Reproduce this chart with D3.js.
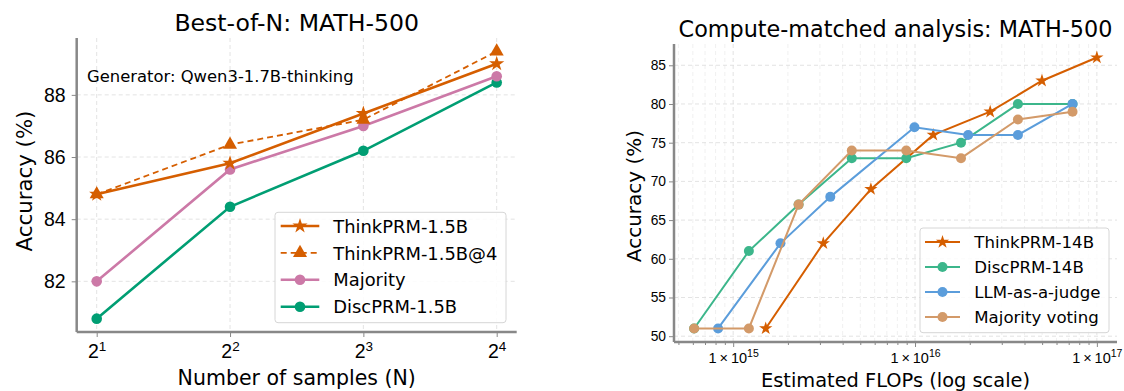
<!DOCTYPE html>
<html>
<head>
<meta charset="utf-8">
<script src="https://cdn.jsdelivr.net/npm/d3@7"></script>
<style>
  body { margin: 0; background: #fff; }
  svg { font-family: "DejaVu Sans", sans-serif; }
</style>
</head>
<body>
<div id="chart"></div>
<script>
// ---- left panel data (Best-of-N) ----
var samples = [2, 4, 8, 16];
var thinkPRM15 = [84.8, 85.8, 87.4, 89.0];
var thinkPRM15at4 = [84.8, 86.4, 87.2, 89.4];
var majority = [82.0, 85.6, 87.0, 88.6];
var discPRM15 = [80.8, 84.4, 86.2, 88.4];
var leftYTicks = [82, 84, 86, 88];

// ---- right panel data (compute matched) ----
var think14Flops = [1.51e15, 3.13e15, 5.72e15, 1.26e16, 2.59e16, 4.99e16, 1.0e17];
var think14Acc = [51, 62, 69, 76, 79, 83, 86];
var disc14Flops = [6.1e14, 1.22e15, 2.29e15, 4.49e15, 8.95e15, 1.79e16, 3.68e16, 7.35e16];
var disc14Acc = [51, 61, 67, 73, 73, 75, 80, 80];
var judgeFlops = [8.26e14, 1.82e15, 3.42e15, 9.93e15, 1.96e16, 3.68e16, 7.35e16];
var judgeAcc = [51, 62, 68, 77, 76, 76, 80];
var majVoteFlops = [6.1e14, 1.22e15, 2.29e15, 4.49e15, 8.95e15, 1.79e16, 3.68e16, 7.35e16];
var majVoteAcc = [51, 51, 67, 74, 74, 73, 78, 79];
var rightYTicks = [50, 55, 60, 65, 70, 75, 80, 85];
var rightXTicks = [1e15, 1e16, 1e17];

var orange = "#d55e00";

var svg = d3.select("#chart").append("svg")
    .attr("width", 1124)
    .attr("height", 391);

// pad a domain by 5% like matplotlib
function pad(lo, hi) {
  var d = (hi - lo) * 0.05;
  return [lo - d, hi + d];
}

function star(r) { return d3.symbol().type(d3.symbolStar).size(r * r / 0.8908)(); }

// ================= LEFT PANEL =================
var L = {left: 76.7, top: 38, width: 440, height: 294};
var g1 = svg.append("g").attr("transform", "translate(" + L.left + "," + L.top + ")");

var lx = d3.scaleLog().base(2)
    .domain(pad(1, 4).map(function(e) { return Math.pow(2, e); }))
    .range([0, L.width]);
var allLeft = thinkPRM15.concat(thinkPRM15at4, majority, discPRM15);
var ly = d3.scaleLinear()
    .domain(pad(d3.min(allLeft), d3.max(allLeft)))
    .range([L.height, 0]);

// grid
g1.append("g").selectAll("line").data(samples).enter().append("line")
    .attr("x1", function(d) { return lx(d); }).attr("x2", function(d) { return lx(d); })
    .attr("y1", 0).attr("y2", L.height)
    .attr("stroke", "#e0e0e0").attr("stroke-dasharray", "4,3").attr("stroke-width", 0.9);
g1.append("g").selectAll("line").data(leftYTicks).enter().append("line")
    .attr("y1", function(d) { return ly(d); }).attr("y2", function(d) { return ly(d); })
    .attr("x1", 0).attr("x2", L.width)
    .attr("stroke", "#e0e0e0").attr("stroke-dasharray", "4,3").attr("stroke-width", 0.9);

// y axis
var yAxL = g1.append("g")
    .call(d3.axisLeft(ly).tickValues(leftYTicks).tickSize(5).tickPadding(6).tickFormat(d3.format("d")));
yAxL.select(".domain").remove();
yAxL.selectAll("line").attr("stroke", "#888");
yAxL.selectAll("text").style("font-size", "19.5px").attr("fill", "#000");

// x axis
var xAxL = g1.append("g").attr("transform", "translate(0," + L.height + ")")
    .call(d3.axisBottom(lx).tickValues(samples).tickSize(5).tickFormat(""));
xAxL.select(".domain").remove();
xAxL.selectAll("line").attr("stroke", "#888");
xAxL.selectAll(".tick").append("text")
    .attr("y", 26).attr("text-anchor", "middle").attr("fill", "#000")
    .style("font-size", "19.5px")
    .each(function(d) {
      var t = d3.select(this);
      t.append("tspan").text("2");
      t.append("tspan").attr("dy", -7.5).style("font-size", "13.5px").text(Math.log2(d));
    });

// spines
g1.append("line").attr("x1", 0).attr("x2", 0).attr("y1", 0).attr("y2", L.height)
    .attr("stroke", "#888").attr("stroke-width", 2.5);
g1.append("line").attr("x1", 0).attr("x2", L.width).attr("y1", L.height).attr("y2", L.height)
    .attr("stroke", "#888").attr("stroke-width", 2.5);

var leftSeries = [
  {name: "ThinkPRM-1.5B", vals: thinkPRM15, color: orange, dash: null, marker: "star"},
  {name: "ThinkPRM-1.5B@4", vals: thinkPRM15at4, color: orange, dash: "6,4", marker: "tri"},
  {name: "Majority", vals: majority, color: "#cc79a7", dash: null, marker: "circle"},
  {name: "DiscPRM-1.5B", vals: discPRM15, color: "#009e73", dash: null, marker: "circle"}
];

function drawMarker(sel, kind, color) {
  if (kind === "circle") {
    sel.append("circle").attr("r", 5.3).attr("fill", color);
  } else if (kind === "star") {
    sel.append("path").attr("d", star(8)).attr("fill", color);
  } else {
    sel.append("path").attr("d", d3.symbol().type(d3.symbolTriangle).size(85)())
      .attr("fill", color);
  }
}

var lineL = d3.line()
    .x(function(d, i) { return lx(samples[i]); })
    .y(function(d) { return ly(d); });

[3, 2, 1, 0].forEach(function(k) {
  var s = leftSeries[k];
  g1.append("path").datum(s.vals)
    .attr("fill", "none").attr("stroke", s.color)
    .attr("stroke-width", s.dash ? 1.8 : 2.6)
    .attr("stroke-dasharray", s.dash)
    .attr("d", lineL);
  s.vals.forEach(function(v, i) {
    var m = g1.append("g").attr("transform", "translate(" + lx(samples[i]) + "," + ly(v) + ")");
    drawMarker(m, s.marker, s.color);
  });
});

// annotation
g1.append("text").attr("x", 10.3).attr("y", 43.7).style("font-size", "16.4px")
    .attr("fill", "#000").text("Generator: Qwen3-1.7B-thinking");

// legend
var lg1 = g1.append("g").attr("transform", "translate(198.3,174.3)");
lg1.append("rect").attr("width", 231).attr("height", 110.4).attr("rx", 3)
    .attr("fill", "#fff").attr("fill-opacity", 0.85).attr("stroke", "#d6d6d6");
leftSeries.forEach(function(s, i) {
  var row = lg1.append("g").attr("transform", "translate(0," + (13.7 + i * 26.9) + ")");
  row.append("line").attr("x1", 5.7).attr("x2", 44.3)
    .attr("stroke", s.color).attr("stroke-width", s.dash ? 1.8 : 2.6)
    .attr("stroke-dasharray", s.dash);
  var m = row.append("g").attr("transform", "translate(25,0)");
  drawMarker(m, s.marker, s.color);
  row.append("text").attr("x", 58.3).attr("y", 6.6).style("font-size", "17.9px")
    .attr("fill", "#000").text(s.name);
});

// titles / labels
svg.append("text").attr("x", L.left + L.width / 2).attr("y", 30.7)
    .attr("text-anchor", "middle").style("font-size", "23.6px").text("Best-of-N: MATH-500");
svg.append("text").attr("x", L.left + L.width / 2).attr("y", 385)
    .attr("text-anchor", "middle").style("font-size", "20.5px").text("Number of samples (N)");
svg.append("text")
    .attr("transform", "translate(32,181) rotate(-90)")
    .attr("text-anchor", "middle").style("font-size", "21.3px").text("Accuracy (%)");

// ================= RIGHT PANEL =================
var R = {left: 674, top: 44, width: 443, height: 298};
var g2 = svg.append("g").attr("transform", "translate(" + R.left + "," + R.top + ")");

var allFlops = think14Flops.concat(disc14Flops, judgeFlops, majVoteFlops);
var allAcc = think14Acc.concat(disc14Acc, judgeAcc, majVoteAcc);
var lf = pad(Math.log10(d3.min(allFlops)), Math.log10(d3.max(allFlops)));
var rx = d3.scaleLog()
    .domain(lf.map(function(e) { return Math.pow(10, e); }))
    .range([0, R.width]);
var ry = d3.scaleLinear()
    .domain(pad(d3.min(allAcc), d3.max(allAcc)))
    .range([R.height, 0]);

var minorTicks = rx.ticks().filter(function(t) {
  return rightXTicks.indexOf(t) < 0;
});

// grid
g2.append("g").selectAll("line").data(minorTicks).enter().append("line")
    .attr("x1", function(d) { return rx(d); }).attr("x2", function(d) { return rx(d); })
    .attr("y1", 0).attr("y2", R.height)
    .attr("stroke", "#ececec").attr("stroke-dasharray", "4,3").attr("stroke-width", 0.8);
g2.append("g").selectAll("line").data(rightXTicks).enter().append("line")
    .attr("x1", function(d) { return rx(d); }).attr("x2", function(d) { return rx(d); })
    .attr("y1", 0).attr("y2", R.height)
    .attr("stroke", "#e0e0e0").attr("stroke-dasharray", "4,3").attr("stroke-width", 0.9);
g2.append("g").selectAll("line").data(rightYTicks).enter().append("line")
    .attr("y1", function(d) { return ry(d); }).attr("y2", function(d) { return ry(d); })
    .attr("x1", 0).attr("x2", R.width)
    .attr("stroke", "#e0e0e0").attr("stroke-dasharray", "4,3").attr("stroke-width", 0.9);

var yAxR = g2.append("g")
    .call(d3.axisLeft(ry).tickValues(rightYTicks).tickSize(5).tickPadding(3).tickFormat(d3.format("d")));
yAxR.select(".domain").remove();
yAxR.selectAll("line").attr("stroke", "#888");
yAxR.selectAll("text").style("font-size", "13.8px").attr("fill", "#000");

var xMinR = g2.append("g").attr("transform", "translate(0," + R.height + ")")
    .call(d3.axisBottom(rx).tickValues(minorTicks).tickSize(3).tickFormat(""));
xMinR.select(".domain").remove();
xMinR.selectAll("line").attr("stroke", "#888");

var xAxR = g2.append("g").attr("transform", "translate(0," + R.height + ")")
    .call(d3.axisBottom(rx).tickValues(rightXTicks).tickSize(5).tickFormat(""));
xAxR.select(".domain").remove();
xAxR.selectAll("line").attr("stroke", "#888");
xAxR.selectAll(".tick").append("text")
    .attr("y", 21).attr("text-anchor", "middle").attr("fill", "#000")
    .style("font-size", "14.5px")
    .each(function(d) {
      var t = d3.select(this);
      t.append("tspan").text("1\u2009\u00d7\u200910");
      t.append("tspan").attr("dy", -6).style("font-size", "10.5px").text(Math.round(Math.log10(d)));
    });

g2.append("line").attr("x1", 0).attr("x2", 0).attr("y1", 0).attr("y2", R.height)
    .attr("stroke", "#888").attr("stroke-width", 2.5);
g2.append("line").attr("x1", 0).attr("x2", R.width).attr("y1", R.height).attr("y2", R.height)
    .attr("stroke", "#888").attr("stroke-width", 2.5);

var rightSeries = [
  {name: "ThinkPRM-14B", x: think14Flops, y: think14Acc, color: orange, marker: "star"},
  {name: "DiscPRM-14B", x: disc14Flops, y: disc14Acc, color: "#3cb68b", marker: "circle"},
  {name: "LLM-as-a-judge", x: judgeFlops, y: judgeAcc, color: "#5b9ddb", marker: "circle"},
  {name: "Majority voting", x: majVoteFlops, y: majVoteAcc, color: "#d39a69", marker: "circle"}
];

rightSeries.forEach(function(s) {
  var pts = s.x.map(function(v, i) { return [v, s.y[i]]; });
  g2.append("path").datum(pts)
    .attr("fill", "none").attr("stroke", s.color).attr("stroke-width", 2)
    .attr("d", d3.line()
      .x(function(d) { return rx(d[0]); })
      .y(function(d) { return ry(d[1]); }));
  pts.forEach(function(p) {
    var m = g2.append("g").attr("transform", "translate(" + rx(p[0]) + "," + ry(p[1]) + ")");
    if (s.marker === "star") m.append("path").attr("d", star(7)).attr("fill", s.color);
    else m.append("circle").attr("r", 5).attr("fill", s.color);
  });
});

var lg2 = g2.append("g").attr("transform", "translate(246,184)");
lg2.append("rect").attr("width", 189).attr("height", 104.7).attr("rx", 3)
    .attr("fill", "#fff").attr("fill-opacity", 0.85).attr("stroke", "#d6d6d6");
rightSeries.forEach(function(s, i) {
  var row = lg2.append("g").attr("transform", "translate(0," + (14 + i * 25) + ")");
  row.append("line").attr("x1", 5).attr("x2", 40)
    .attr("stroke", s.color).attr("stroke-width", 2);
  var m = row.append("g").attr("transform", "translate(22.5,0)");
  if (s.marker === "star") m.append("path").attr("d", star(7)).attr("fill", s.color);
  else m.append("circle").attr("r", 5).attr("fill", s.color);
  row.append("text").attr("x", 54.3).attr("y", 6).style("font-size", "16.6px")
    .attr("fill", "#000").text(s.name);
});

svg.append("text").attr("x", R.left + R.width / 2).attr("y", 37)
    .attr("text-anchor", "middle").style("font-size", "22.3px").text("Compute-matched analysis: MATH-500");
svg.append("text").attr("x", R.left + R.width / 2).attr("y", 387)
    .attr("text-anchor", "middle").style("font-size", "19.4px").text("Estimated FLOPs (log scale)");
svg.append("text")
    .attr("transform", "translate(641,196) rotate(-90)")
    .attr("text-anchor", "middle").style("font-size", "20px").text("Accuracy (%)");
</script>
</body>
</html>
